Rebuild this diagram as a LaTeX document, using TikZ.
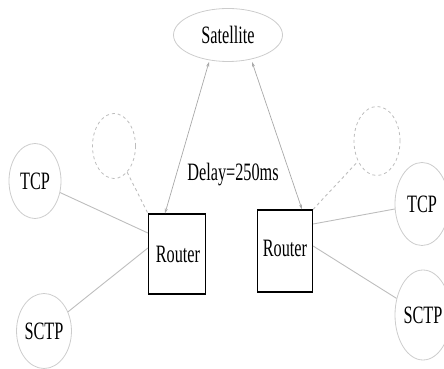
\documentclass[tikz,border=0pt]{standalone}
\usepackage{fontspec}
\setmainfont{Liberation Serif}[FakeStretch=0.65]
\usetikzlibrary{shapes.geometric,arrows.meta}
\definecolor{linegray}{HTML}{BDBDBD}
\definecolor{arrowgray}{HTML}{A8A8A8}
\definecolor{circgray}{HTML}{CCCCCC}
\begin{document}
\begin{tikzpicture}[x=1pt,y=1pt,
  every node/.style={font=\fontsize{25}{29}\selectfont, inner sep=0pt},
  endpoint/.style={ellipse, draw=circgray, line width=0.8pt},
  ghost/.style={ellipse, draw=linegray, dashed, line width=0.8pt},
  routerbox/.style={rectangle, draw=black, line width=1.2pt},
  link/.style={draw=linegray, line width=0.9pt},
  dlink/.style={draw=linegray, line width=0.9pt, dashed},
  satlink/.style={draw=arrowgray, line width=0.7pt, {Stealth[length=5pt,width=3pt]}-{Stealth[length=5pt,width=3pt]}}
]
\useasboundingbox (0,0) rectangle (444,369);
\node[endpoint, minimum width=109pt, minimum height=53pt] (sat) at (228,334) {Satellite};
\node[endpoint, minimum width=52pt, minimum height=75pt] (ltcp) at (35,188) {TCP};
\node[endpoint, minimum width=53pt, minimum height=75pt] (lsctp) at (44,38) {SCTP};
\node[ghost, minimum width=43pt, minimum height=65pt] (ldash) at (114,223) {};
\node[routerbox, minimum width=57pt, minimum height=80pt] (lrouter) at (177,115) {\hspace*{2pt}Router};
\node[routerbox, minimum width=55pt, minimum height=82pt] (rrouter) at (285,118) {\raisebox{5pt}{Router}};
\node[ghost, minimum width=46pt, minimum height=69pt] (rdash) at (377,228) {};
\node[endpoint, minimum width=54pt, minimum height=83pt] (rtcp) at (422,165) {TCP};
\node[endpoint, minimum width=56pt, minimum height=90pt] (rsctp) at (423,54) {SCTP};
\node (delay) at (233,194) {Delay=250ms};

\draw[satlink] ([xshift=-12pt]lrouter.north) -- ([xshift=-19pt]sat.south);
\draw[satlink] ([xshift=24pt]sat.south) -- ([xshift=17pt]rrouter.north);
\draw[link] (ltcp) -- ([yshift=21pt]lrouter.west);
\draw[link] (lsctp) -- ([yshift=6pt]lrouter.west);
\draw[dlink] (ldash) -- (lrouter.north west);
\draw[link] ([yshift=27pt]rrouter.east) -- (rtcp);
\draw[link] ([yshift=5pt]rrouter.east) -- (rsctp);
\draw[dlink] (rrouter.north east) -- (rdash);
\end{tikzpicture}
\end{document}
